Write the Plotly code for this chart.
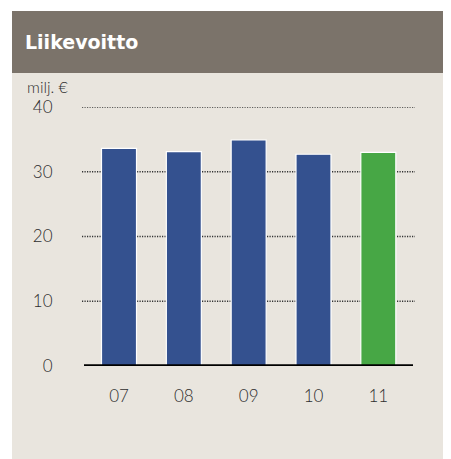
import plotly.graph_objects as go

categories = ["07", "08", "09", "10", "11"]
values = [33.6, 33.1, 34.9, 32.7, 33.0]
bar_colors = ["#34518f", "#34518f", "#34518f", "#34518f", "#47a745"]
y_ticks = [0, 10, 20, 30, 40]
title_text = "Liikevoitto"
unit_text = "milj. €"

OFF = 8                 # page body margin
W, H = 451 - OFF, 459 - OFF
L, R = 84 - OFF, 413 - OFF      # plot area pixels (figure coords)
T, B = 107 - OFF, 366 - OFF


def px(x):
    return (x - OFF - L) / (R - L)


def py(y):
    return (B - (y - OFF)) / (B - T)


fig = go.Figure()
fig.add_trace(go.Bar(
    x=categories, y=values,
    marker=dict(color=bar_colors, line=dict(color="#ffffff", width=1.2)),
    width=0.54,
))

shapes = [
    dict(type="rect", xref="paper", yref="paper", x0=px(12), x1=px(470), y0=py(480), y1=py(11),
         fillcolor="#e9e5de", line=dict(width=0), layer="below"),
    dict(type="rect", xref="paper", yref="paper", x0=px(12), x1=px(470), y0=py(73), y1=py(11),
         fillcolor="#7b736a", line=dict(width=0), layer="below"),
]
for t in y_ticks[1:]:
    shapes.append(dict(type="line", xref="paper", yref="y", x0=px(82), x1=px(415), y0=t, y1=t,
                       line=dict(color="#333333", width=1.3, dash="1.2px,1.3px"), layer="below"))
shapes.append(dict(type="line", xref="paper", yref="y", x0=px(84), x1=px(413), y0=0, y1=0,
                   line=dict(color="#000000", width=3.5), layer="above"))

fig.update_layout(
    width=W, height=H,
    margin=dict(l=L, r=W - R, t=T, b=H - B, pad=0),
    paper_bgcolor="#ffffff",
    plot_bgcolor="rgba(0,0,0,0)",
    showlegend=False,
    shapes=shapes,
    font=dict(family="Lato", color="#333333"),
    xaxis=dict(range=[-0.54, 4.535], showgrid=False, zeroline=False, showline=False,
               ticks="outside", ticklen=15, tickcolor="rgba(0,0,0,0)",
               tickfont=dict(size=17, color="#2e2e2e", family="Lato", weight=300)),
    yaxis=dict(range=[0, 40], tickvals=y_ticks, showgrid=False, zeroline=False, showline=False,
               ticks="outside", ticklen=27, tickcolor="rgba(0,0,0,0)",
               tickfont=dict(size=17, color="#2e2e2e", family="Lato", weight=300)),
    annotations=[
        dict(text=title_text, xref="paper", yref="paper", x=px(23), y=py(42),
             xanchor="left", yanchor="middle", showarrow=False,
             font=dict(size=19, color="#ffffff", family="DejaVu Sans", weight="bold")),
        dict(text=unit_text, xref="paper", yref="paper", x=px(47.5), y=py(87),
             xanchor="center", yanchor="middle", showarrow=False,
             font=dict(size=16, color="#2e2e2e", family="Lato", weight=300)),
    ],
)

fig.write_html("out.html")
